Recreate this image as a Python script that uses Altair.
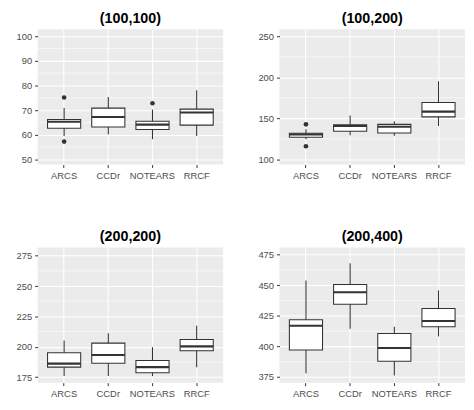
import altair as alt
import pandas as pd

methods = ["ARCS", "CCDr", "NOTEARS", "RRCF"]

titles = ["(100,100)", "(100,200)", "(200,200)", "(200,400)"]

# box statistics per panel: lower whisker, q1, median, q3, upper whisker
p1_lo = [59.5, 60.2, 58.2, 59.5]
p1_q1 = [62.6, 63.1, 62.1, 63.9]
p1_md = [65.3, 67.2, 64.1, 69.0]
p1_q3 = [66.2, 70.8, 65.5, 70.4]
p1_hi = [70.8, 75.3, 70.2, 78.1]
p1_out_m = ["ARCS", "ARCS", "NOTEARS"]
p1_out_v = [75.1, 57.2, 72.8]

p2_lo = [124.6, 129.4, 128.6, 140.6]
p2_q1 = [127.0, 134.2, 132.2, 151.7]
p2_md = [130.2, 140.6, 139.8, 158.1]
p2_q3 = [131.8, 142.2, 142.6, 169.2]
p2_hi = [136.6, 153.3, 146.5, 195.1]
p2_out_m = ["ARCS", "ARCS"]
p2_out_v = [142.6, 115.9]

p3_lo = [175.8, 175.8, 175.8, 183.2]
p3_q1 = [183.2, 186.4, 178.5, 196.7]
p3_md = [186.1, 193.2, 183.2, 200.3]
p3_q3 = [195.1, 203.0, 188.6, 206.0]
p3_hi = [205.2, 211.1, 199.7, 217.4]
p3_out_m = []
p3_out_v = []

p4_lo = [378.0, 414.4, 376.3, 408.2]
p4_q1 = [397.1, 434.6, 387.9, 416.2]
p4_md = [417.0, 444.3, 398.7, 420.8]
p4_q3 = [421.9, 450.7, 410.6, 431.1]
p4_hi = [454.0, 468.0, 416.2, 445.9]
p4_out_m = []
p4_out_v = []

domains = [[47.9, 102.8], [93.7, 258.4], [170.4, 281.9], [370.4, 481.0]]
major_ticks = [
    [50, 60, 70, 80, 90, 100],
    [100, 150, 200, 250],
    [175, 200, 225, 250, 275],
    [375, 400, 425, 450, 475],
]
minor_ticks = [
    [55, 65, 75, 85, 95],
    [125, 175, 225],
    [187.5, 212.5, 237.5, 262.5],
    [387.5, 412.5, 437.5, 462.5],
]

FONT = "Liberation Sans"
W, H = 188, 137


def panel(i, lo, q1, md, q3, hi, out_m, out_v):
    box = pd.DataFrame({"method": methods, "lo": lo, "q1": q1, "md": md, "q3": q3, "hi": hi})
    out = pd.DataFrame({"method": out_m, "v": out_v})
    minor = pd.DataFrame({"m": minor_ticks[i]})

    xs = alt.Scale(domain=methods, paddingInner=0, paddingOuter=0.1)
    ys = alt.Scale(domain=domains[i], nice=False, zero=False)
    xax = alt.Axis(title=None, labelAngle=0, grid=True, gridColor="white", gridWidth=1.07,
                   domain=False, tickColor="#333333", tickSize=3, labelColor="#4D4D4D",
                   labelFontSize=9.5, labelPadding=3, labelFont=FONT)
    yax = alt.Axis(title=None, values=major_ticks[i], grid=True, gridColor="white", gridWidth=1.07,
                   domain=False, tickColor="#333333", tickSize=3, labelColor="#4D4D4D",
                   labelFontSize=9.5, labelPadding=3, labelFont=FONT)

    minor_l = alt.Chart(minor).mark_rule(color="white", strokeWidth=0.55).encode(
        y=alt.Y("m:Q", scale=ys, axis=yax)
    )
    whisk = alt.Chart(box).mark_rule(color="#333333", strokeWidth=1.07).encode(
        x=alt.X("method:N", scale=xs, axis=xax),
        y=alt.Y("lo:Q", scale=ys, axis=yax),
        y2="hi:Q",
    )
    bx = alt.Chart(box).mark_bar(width=alt.RelativeBandSize(0.75), fill="white",
                                 stroke="#333333", strokeWidth=1.07).encode(
        x=alt.X("method:N", scale=xs, axis=xax),
        y=alt.Y("q1:Q", scale=ys, axis=yax),
        y2="q3:Q",
    )
    med = alt.Chart(box).mark_tick(size=0.75 * W / 4.2, thickness=2.1, color="#333333", opacity=1).encode(
        x=alt.X("method:N", scale=xs, axis=xax),
        y=alt.Y("md:Q", scale=ys, axis=yax),
    )
    layers = [minor_l, whisk, bx, med]
    if len(out_v):
        pts = alt.Chart(out).mark_circle(size=22, color="#333333", opacity=1).encode(
            x=alt.X("method:N", scale=xs, axis=xax),
            y=alt.Y("v:Q", scale=ys, axis=yax),
        )
        layers.append(pts)
    return alt.layer(*layers).properties(
        width=W, height=H,
        title=alt.TitleParams(titles[i], fontSize=14.5, fontWeight="bold", font=FONT,
                              anchor="middle", frame="group", color="black", offset=3),
    )


p1 = panel(0, p1_lo, p1_q1, p1_md, p1_q3, p1_hi, p1_out_m, p1_out_v)
p2 = panel(1, p2_lo, p2_q1, p2_md, p2_q3, p2_hi, p2_out_m, p2_out_v)
p3 = panel(2, p3_lo, p3_q1, p3_md, p3_q3, p3_hi, p3_out_m, p3_out_v)
p4 = panel(3, p4_lo, p4_q1, p4_md, p4_q3, p4_hi, p4_out_m, p4_out_v)

chart = alt.vconcat(
    alt.hconcat(p1, p2, spacing=34),
    alt.hconcat(p3, p4, spacing=34),
    spacing=49,
).properties(
    padding={"left": 8, "top": 0, "right": 0, "bottom": 0}
).configure_view(fill="#EBEBEB", stroke=None)

chart.save("out.html", embed_options={"renderer": "svg", "actions": False})
